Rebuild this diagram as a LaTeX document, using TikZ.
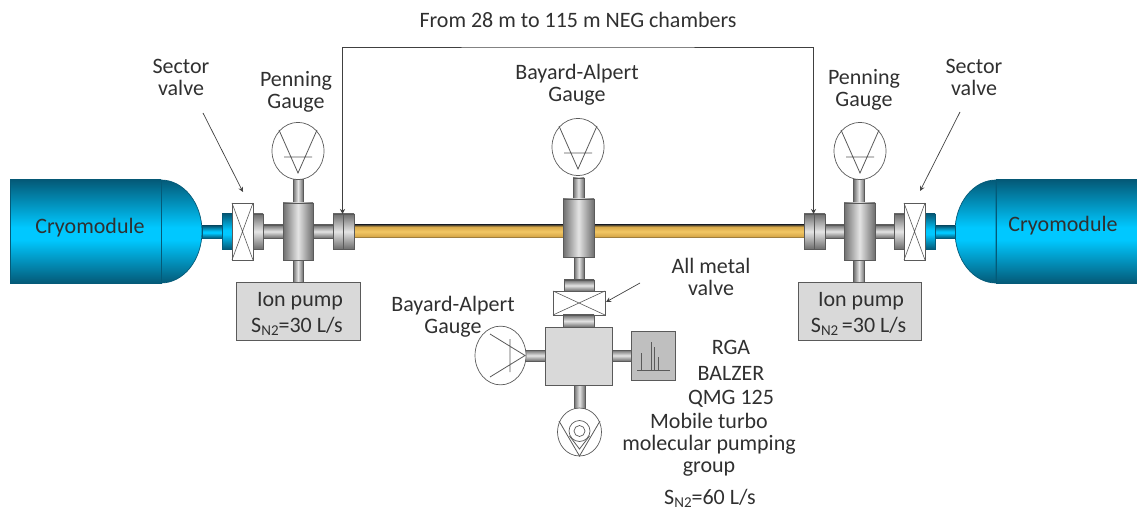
\documentclass[tikz,border=0pt]{standalone}
\usepackage{fontspec}
\setmainfont{Carlito}
\usetikzlibrary{arrows.meta}
\definecolor{txt}{HTML}{303030}
\definecolor{edge}{HTML}{5A5A5A}
\definecolor{boxgray}{HTML}{D9D9D9}
\definecolor{mdark}{HTML}{6E6E6E}
\definecolor{mlight}{HTML}{E4E4E4}
\definecolor{bdark}{HTML}{045A78}
\definecolor{blight}{HTML}{00C8FF}
\definecolor{gdark}{HTML}{5A4C30}
\definecolor{gmid}{HTML}{D8A94A}
\definecolor{glight}{HTML}{F2C765}
\pgfdeclareverticalshading{goldshade}{100bp}{color(0bp)=(gdark); color(25bp)=(gdark); color(32bp)=(gmid); color(50bp)=(glight); color(68bp)=(gmid); color(75bp)=(gdark); color(100bp)=(gdark)}
\pgfdeclareverticalshading{blueshade}{100bp}{color(0bp)=(bdark); color(25bp)=(bdark); color(46bp)=(blight); color(52bp)=(blight); color(75bp)=(bdark); color(100bp)=(bdark)}
\tikzset{
  part/.style={draw=edge,line width=.7pt,inner sep=0,outer sep=0},
  sz/.style n args={2}{minimum width=#1pt,minimum height=#2pt},
  metalH/.style={part,top color=mdark,bottom color=mdark,middle color=mlight},
  metalV/.style={part,left color=mdark,right color=mdark,middle color=mlight},
  blueH/.style={part,draw=bdark,shading=blueshade},
  goldH/.style={part,draw=none,shading=goldshade},
  flat/.style={part,fill=boxgray},
  valve/.style={part,fill=white},
  sym/.style={draw=edge,line width=.8pt},
  lab/.style={text=txt,font=\fontsize{22}{22}\selectfont,align=center,inner sep=0},
  lead/.style={draw=black!75,line width=.7pt,-{Stealth[length=5pt,width=5pt]}},
  lead2/.style={draw=black!75,line width=.7pt,{Stealth[length=5pt,width=5pt]}-{Stealth[length=5pt,width=5pt]}}
}
\newcommand{\sntwo}{S\raisebox{-.3ex}{\fontsize{15}{15}\selectfont N2}}
\newcommand{\xval}[1]{\draw[sym,line width=.6pt] (#1.north west)--(#1.south east) (#1.north east)--(#1.south west);}
\begin{document}
\begin{tikzpicture}[x=1pt,y=-1pt]
\useasboundingbox (0,0) rectangle (1137,510);
% Cryomodules
\path[blueH]
  (161,180) .. controls (183.6,180) and (202,203) .. (202,231.5) .. controls (202,260) and (183.6,283) .. (161,283) -- cycle;
\node[blueH,sz={151}{103}] (cryoL) at (85.5,231.5) {};
\node[lab] (cryoLt) at (90,228) {Cryomodule};
\path[blueH]
  (996,180) .. controls (973.4,180) and (955,203) .. (955,231.5) .. controls (955,260) and (973.4,283) .. (996,283) -- cycle;
\node[blueH,sz={141}{103}] (cryoR) at (1066.5,231.5) {};
\node[lab] (cryoRt) at (1063,226) {Cryomodule};
% Beam pipe
\node[goldH,sz={451}{13}] (neg) at (579.5,231.5) {};
% Left station
\node[blueH,sz={20}{12}] (neckL) at (212,232) {};
\node[blueH,sz={11}{35}] (bfL) at (227.5,231.5) {};
\node[metalH,sz={20}{13}] (pL1) at (273,231.5) {};
\node[metalH,sz={20}{13}] (pL2) at (323,231.5) {};
\node[metalH,sz={10}{35}] (gfL) at (258,231.5) {};
\node[metalV,sz={10}{24}] (pLup) at (298,191) {};
\node[metalV,sz={10}{22}] (pLdn) at (298,271) {};
\node[metalV,sz={30}{57}] (crossL) at (298,231.5) {};
\node[metalH,sz={21}{35}] (flL) at (343.5,231.5) {};
\draw[sym] (flL.north) -- (flL.south);
\node[valve,sz={21}{57}] (valL) at (242.5,231.5) {}; \xval{valL}
% Right station
\node[blueH,sz={20}{12}] (neckR) at (945,232) {};
\node[blueH,sz={10}{35}] (bfR) at (930,231.5) {};
\node[metalH,sz={19}{13}] (pR1) at (834.5,231.5) {};
\node[metalH,sz={19}{13}] (pR2) at (884.5,231.5) {};
\node[metalH,sz={10}{35}] (gfR) at (899,231.5) {};
\node[metalV,sz={11}{24}] (pRup) at (859,191) {};
\node[metalV,sz={11}{22}] (pRdn) at (859,271) {};
\node[metalV,sz={31}{57}] (crossR) at (859.5,231.5) {};
\node[metalH,sz={21}{35}] (flR) at (814.5,231.5) {};
\draw[sym] (flR.north) -- (flR.south);
\node[valve,sz={21}{57}] (valR) at (914.5,231.5) {}; \xval{valR}
% Centre station
\node[metalV,sz={11}{21}] (pCup) at (578.5,188.5) {};
\node[metalV,sz={10}{23}] (pCdn) at (579,268.5) {};
\node[metalV,sz={31}{58}] (crossC) at (578.5,228) {};
\node[metalH,sz={30}{11}] (flC1) at (579,285.5) {};
\node[valve,sz={52}{24}] (valC) at (579,303) {}; \xval{valC}
\node[metalH,sz={31}{12}] (flC2) at (578.5,321) {};
\node[metalH,sz={20}{11}] (pBL) at (535,355.5) {};
\node[metalH,sz={19}{11}] (pBR) at (621.5,355.5) {};
\node[metalV,sz={11}{23}] (pBD) at (579.5,396.5) {};
\node[flat,sz={67}{58}] (hub) at (578.5,356) {};
% Ion pumps
\node[flat,sz={124}{58}] (ionL) at (298,311) {};
\node[lab] (ionLa) at (300,301) {Ion pump};
\node[lab] (ionLb) at (297,326) {\sntwo=30 L/s};
\node[flat,sz={123}{58}] (ionR) at (859.5,311) {};
\node[lab] (ionRa) at (861,301) {Ion pump};
\node[lab] (ionRb) at (858.5,326) {\sntwo\,=30 L/s};
% Gauges
\node[part,draw=edge,fill=white,circle,minimum size=52pt,yscale=1.1] (gL) at (298,151) {};
\draw[sym] (279,130)--(298,173)--(317,130) (284,157)--(312,157);
\node[part,draw=edge,fill=white,circle,minimum size=52pt,yscale=1.1] (gC) at (578,147) {};
\draw[sym] (559,126)--(578,169)--(597,126) (564,153)--(592,153);
\node[part,draw=edge,fill=white,circle,minimum size=52pt,yscale=1.1] (gR) at (860,151) {};
\draw[sym] (841,130)--(860,173)--(879,130) (846,157)--(874,157);
\node[part,draw=edge,fill=white,circle,minimum size=52pt,xscale=.98,yscale=1.13] (gB) at (500.5,355.5) {};
\draw[sym] (490,334)--(525,355.5)--(490,377) (510,339)--(510,372);
\node[part,draw=edge,fill=white,circle,minimum size=44pt,yscale=1.09] (gP) at (579.5,432) {};
\draw[sym] (559,421)--(579.5,456)--(600,421);
\draw[sym] (569.5,436)--(579.5,449)--(589.5,436);
\node[part,draw=edge,fill=white,circle,minimum size=21pt] (gPo) at (579.5,431) {};
\node[part,draw=edge,fill=white,circle,minimum size=11pt] (gPi) at (579.5,431) {};
% RGA
\node[part,fill=black!25,sz={44}{49}] (rga) at (653,355.5) {};
\draw[sym] (637,370)--(670,370) (641,370)--(641,353) (651,370)--(651,342) (654,370)--(654,347) (658,370)--(658,357);
% Labels
\node[lab] (tTop) at (578,20) {From 28 m to 115 m NEG chambers};
\node[lab] (tSL) at (181,77) {Sector\\valve};
\node[lab] (tPL) at (296,92) {Penning\\Gauge};
\node[lab] (tBC) at (577,85) {Bayard-Alpert\\Gauge};
\node[lab] (tPR) at (864,90) {Penning\\Gauge};
\node[lab] (tSR) at (974,77) {Sector\\valve};
\node[lab] (tAM) at (711,276.5) {All metal\\valve};
\node[lab] (tBL) at (453,317) {Bayard-Alpert\\Gauge};
\node[lab] (tRGA) at (731,347) {RGA};
\node[lab] (tBAL) at (731,373) {BALZER};
\node[lab] (tQMG) at (731,399) {QMG 125};
\node[lab] (tMob) at (709,445) {Mobile turbo\\molecular pumping\\group};
\node[lab] (tS60) at (710,498) {\sntwo=60 L/s};
% Leaders
\coordinate (aSL) at (203,113); \coordinate (aSLe) at (243,192);
\coordinate (aSR) at (960,112); \coordinate (aSRe) at (920,191);
\coordinate (aAM) at (640,283); \coordinate (aAMe) at (606,302);
\coordinate (topC) at (578,47);
\draw[lead] (aSL) -- (aSLe);
\draw[lead] (aSR) -- (aSRe);
\draw[lead] (aAM) -- (aAMe);
\draw[lead2] ([xshift=-1pt]flL.north) |- (topC) -| ([xshift=-1pt]flR.north);
\end{tikzpicture}
\end{document}
